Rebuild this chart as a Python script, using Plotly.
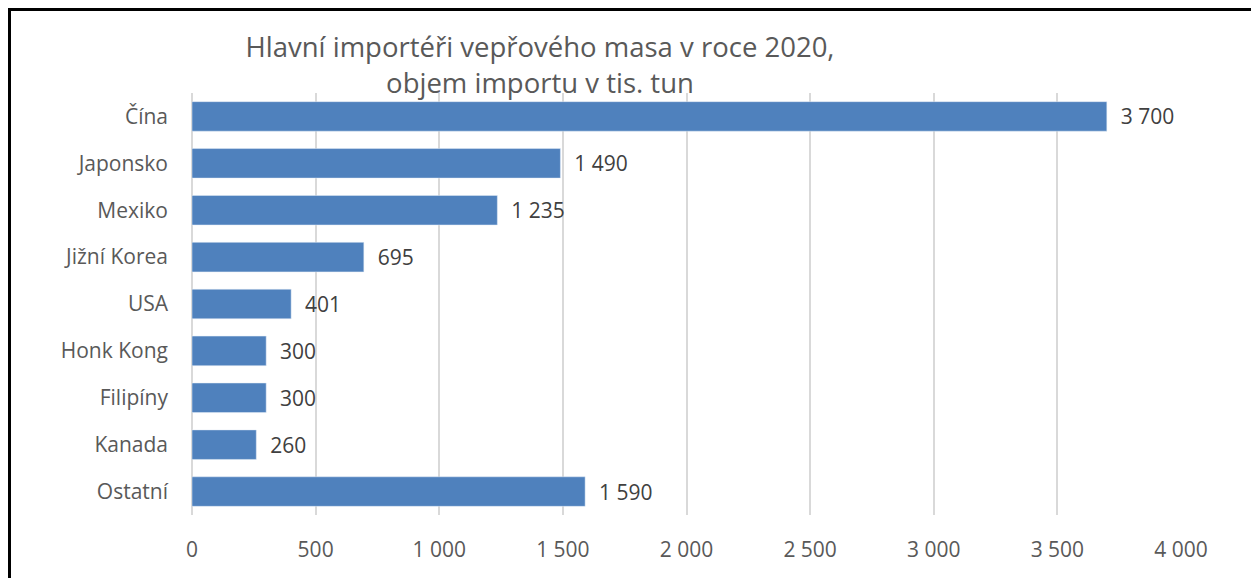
import plotly.graph_objects as go

# data
countries = ["Čína", "Japonsko", "Mexiko", "Jižní Korea", "USA",
             "Honk Kong", "Filipíny", "Kanada", "Ostatní"]
imports_kt = [3700, 1490, 1235, 695, 401, 300, 300, 260, 1590]
x_ticks = [0, 500, 1000, 1500, 2000, 2500, 3000, 3500, 4000]

W, H = 1251, 578
L, R, T, B = 192, 70, 93, 63
pw, ph = W - L - R, H - T - B


def px_x(p):
    return (p - L) / pw


def px_y(p):
    return (H - B - p) / ph


fig = go.Figure(
    go.Bar(
        x=imports_kt,
        y=countries,
        orientation="h",
        marker_color="#4F81BD",
        width=0.63,
        texttemplate="  %{x:,}",
        textposition="outside",
        cliponaxis=False,
        textfont=dict(size=21, color="#404040"),
    )
)

fig.update_layout(
    width=W,
    height=H,
    margin=dict(l=L, r=R, t=T, b=B),
    paper_bgcolor="white",
    plot_bgcolor="white",
    separators=", ",
    font=dict(family="Open Sans", color="#595959"),
    showlegend=False,
    title=dict(
        text="Hlavní importéři vepřového masa v roce 2020,<br>objem importu v tis. tun",
        x=540 / W,
        xanchor="center",
        y=1 - 57 / H,
        yanchor="middle",
        font=dict(size=27.5, color="#595959"),
    ),
)

fig.update_xaxes(
    range=[0, 4000],
    tickvals=x_ticks,
    tickformat=",",
    showgrid=True,
    gridcolor="#D9D9D9",
    gridwidth=1.5,
    zeroline=True,
    zerolinecolor="#D9D9D9",
    zerolinewidth=1.5,
    showline=False,
    ticks="",
    ticklabelstandoff=20,
    tickfont=dict(size=21, color="#595959"),
)
fig.update_yaxes(
    categoryorder="array",
    categoryarray=countries[::-1],
    showgrid=False,
    showline=False,
    ticks="",
    ticklabelstandoff=23,
    tickfont=dict(size=21, color="#595959"),
)

# chart border: only the top and left edges fall inside the picture,
# drawn as thin filled strips kept inside the figure
for x0, y0, x1, y1 in [(8, 8, W, 11), (8, 8, 11, H)]:
    fig.add_shape(
        type="rect", xref="paper", yref="paper",
        x0=px_x(x0), x1=px_x(x1), y0=px_y(y1), y1=px_y(y0),
        fillcolor="black",
        line=dict(width=0),
        layer="above",
    )

fig.write_html(
    "out.html",
    config={"displayModeBar": False},
    post_script=(
        "document.body.style.margin='0';"
        "document.body.style.overflow='hidden';"
        "document.documentElement.style.overflow='hidden';"
    ),
)
